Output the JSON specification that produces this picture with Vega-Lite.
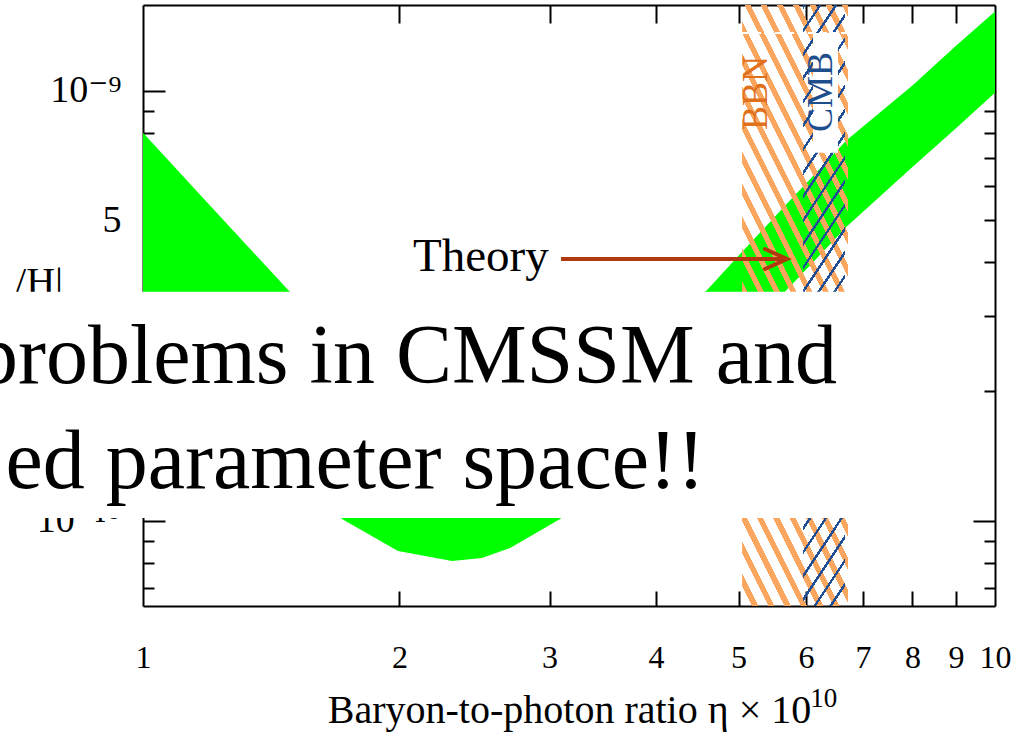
{
 "$schema": "https://vega.github.io/schema/vega-lite/v6.json",
 "width": 852,
 "height": 601,
 "autosize": {"type": "none"},
 "padding": {"left": 143, "top": 5, "right": 24, "bottom": 144},
 "background": "white",
 "datasets": {
  "band": [
   {"eta": 1.0, "lo": 3.0e-10, "hi": 8.0e-10},
   {"eta": 1.2, "lo": 2.2e-10, "hi": 5.4e-10},
   {"eta": 1.5, "lo": 1.4e-10, "hi": 3.35e-10},
   {"eta": 1.712, "lo": 1.01e-10, "hi": 2.6e-10},
   {"eta": 1.992, "lo": 8.51e-11, "hi": 2.0e-10},
   {"eta": 2.305, "lo": 8.07e-11, "hi": 1.75e-10},
   {"eta": 2.5, "lo": 8.2e-11, "hi": 1.72e-10},
   {"eta": 2.697, "lo": 8.65e-11, "hi": 1.8e-10},
   {"eta": 3.087, "lo": 1.01e-10, "hi": 2.05e-10},
   {"eta": 3.5, "lo": 1.25e-10, "hi": 2.45e-10},
   {"eta": 4.0, "lo": 1.6e-10, "hi": 2.85e-10},
   {"eta": 4.59, "lo": 2.2e-10, "hi": 3.44e-10},
   {"eta": 5.0, "lo": 2.65e-10, "hi": 4.14e-10},
   {"eta": 5.54, "lo": 3.25e-10, "hi": 5.15e-10},
   {"eta": 5.69, "lo": 3.44e-10, "hi": 5.45e-10},
   {"eta": 6.0, "lo": 3.84e-10, "hi": 6.09e-10},
   {"eta": 6.7, "lo": 4.84e-10, "hi": 7.69e-10},
   {"eta": 8.0, "lo": 6.66e-10, "hi": 1.03e-9},
   {"eta": 9.0, "lo": 8.19e-10, "hi": 1.274e-9},
   {"eta": 10.0, "lo": 9.9e-10, "hi": 1.53e-9}
  ],
  "bbn": [{"x1": 5.048, "x2": 6.722, "y1": 6.34e-11, "y2": 1.585e-9}],
  "cmb": [{"x1": 5.953, "x2": 6.667, "y1": 6.34e-11, "y2": 1.585e-9}],
  "patch": [{"x1": 6.115, "x2": 6.542, "y1": 7.18e-10, "y2": 1.365e-9}],
  "dash": [{"x1": 5.048, "x2": 6.722, "y": 1.365e-9}],
  "bandLabels": [
   {"label": "BBN", "eta": 5.235, "val": 9.89e-10},
   {"label": "CMB", "eta": 6.249, "val": 9.95e-10}
  ],
  "theory": [{"label": "Theory", "eta": 2.074, "val": 3.815e-10}],
  "shaft": [{"x1": 3.095, "x2": 5.67, "y": 4.067e-10}],
  "head": [
   {"o": 1, "eta": 5.37, "val": 4.291e-10},
   {"o": 2, "eta": 5.70, "val": 4.067e-10},
   {"o": 3, "eta": 5.37, "val": 3.855e-10}
  ],
  "ylab": [{"label": "/H|", "eta": 0.7078, "val": 3.354e-10}],
  "sup": [{"label": "10", "eta": 6.07, "val": 3.7e-11}],
  "box": [{"x1": 0.3, "x2": 8.0, "y1": 1.016e-10, "y2": 3.41e-10}],
  "notes": [
   {"line": "problems in CMSSM and", "eta": 6.525, "val": 2.094e-10},
   {"line": "ed parameter space!!", "eta": 4.566, "val": 1.193e-10}
  ]
 },
 "resolve": {"axis": {"x": "independent", "y": "independent"}},
 "layer": [
  {
   "data": {"name": "band"},
   "mark": {"type": "area", "color": "#00FF00", "opacity": 1, "interpolate": "linear"},
   "encoding": {
    "x": {"field": "eta", "type": "quantitative",
     "scale": {"type": "log", "domain": [1, 10], "nice": false},
     "axis": {"orient": "bottom", "values": [1, 2, 3, 4, 5, 6, 7, 8, 9, 10], "ticks": false, "domain": true,
      "labelFontSize": 32, "labelPadding": 61, "labelBaseline": "alphabetic",
      "title": "Baryon-to-photon ratio η × 10", "titleFont": "Liberation Serif", "titleFontSize": 40,
      "titleFontWeight": "normal", "titleColor": "black", "titlePadding": 17}},
    "y": {"field": "hi", "type": "quantitative",
     "scale": {"type": "log", "domain": [6.34e-11, 1.585e-9], "nice": false},
     "axis": {"orient": "left", "values": [1e-10, 2e-10, 5e-10, 1e-9], "ticks": false, "domain": true,
      "labelFontSize": 38, "labelPadding": 22, "title": null, "labelFont": "Liberation Serif, DejaVu Serif",
      "labelExpr": "datum.value > 9e-10 ? '10⁻⁹' : datum.value > 4e-10 ? '5' : datum.value > 1.5e-10 ? '2' : '10⁻¹⁰'"}},
    "y2": {"field": "lo"}
   }
  },
  {
   "data": {"name": "bbn"},
   "mark": {"type": "rect", "fill": {"gradient": "linear", "x1": 0, "y1": 1, "x2": 0.4244, "y2": -0.203,
    "stops": [
     {"offset": 0, "color": "rgba(250,166,94,0)"}, {"offset": 0.025, "color": "rgba(250,166,94,0)"}, {"offset": 0.025, "color": "#FAA65E"}, {"offset": 0.04, "color": "#FAA65E"},
     {"offset": 0.04, "color": "rgba(250,166,94,0)"}, {"offset": 0.065, "color": "rgba(250,166,94,0)"}, {"offset": 0.065, "color": "#FAA65E"}, {"offset": 0.08, "color": "#FAA65E"},
     {"offset": 0.08, "color": "rgba(250,166,94,0)"}, {"offset": 0.105, "color": "rgba(250,166,94,0)"}, {"offset": 0.105, "color": "#FAA65E"}, {"offset": 0.12, "color": "#FAA65E"},
     {"offset": 0.12, "color": "rgba(250,166,94,0)"}, {"offset": 0.145, "color": "rgba(250,166,94,0)"}, {"offset": 0.145, "color": "#FAA65E"}, {"offset": 0.16, "color": "#FAA65E"},
     {"offset": 0.16, "color": "rgba(250,166,94,0)"}, {"offset": 0.185, "color": "rgba(250,166,94,0)"}, {"offset": 0.185, "color": "#FAA65E"}, {"offset": 0.2, "color": "#FAA65E"},
     {"offset": 0.2, "color": "rgba(250,166,94,0)"}, {"offset": 0.225, "color": "rgba(250,166,94,0)"}, {"offset": 0.225, "color": "#FAA65E"}, {"offset": 0.24, "color": "#FAA65E"},
     {"offset": 0.24, "color": "rgba(250,166,94,0)"}, {"offset": 0.265, "color": "rgba(250,166,94,0)"}, {"offset": 0.265, "color": "#FAA65E"}, {"offset": 0.28, "color": "#FAA65E"},
     {"offset": 0.28, "color": "rgba(250,166,94,0)"}, {"offset": 0.305, "color": "rgba(250,166,94,0)"}, {"offset": 0.305, "color": "#FAA65E"}, {"offset": 0.32, "color": "#FAA65E"},
     {"offset": 0.32, "color": "rgba(250,166,94,0)"}, {"offset": 0.345, "color": "rgba(250,166,94,0)"}, {"offset": 0.345, "color": "#FAA65E"}, {"offset": 0.36, "color": "#FAA65E"},
     {"offset": 0.36, "color": "rgba(250,166,94,0)"}, {"offset": 0.385, "color": "rgba(250,166,94,0)"}, {"offset": 0.385, "color": "#FAA65E"}, {"offset": 0.4, "color": "#FAA65E"},
     {"offset": 0.4, "color": "rgba(250,166,94,0)"}, {"offset": 0.425, "color": "rgba(250,166,94,0)"}, {"offset": 0.425, "color": "#FAA65E"}, {"offset": 0.44, "color": "#FAA65E"},
     {"offset": 0.44, "color": "rgba(250,166,94,0)"}, {"offset": 0.465, "color": "rgba(250,166,94,0)"}, {"offset": 0.465, "color": "#FAA65E"}, {"offset": 0.48, "color": "#FAA65E"},
     {"offset": 0.48, "color": "rgba(250,166,94,0)"}, {"offset": 0.505, "color": "rgba(250,166,94,0)"}, {"offset": 0.505, "color": "#FAA65E"}, {"offset": 0.52, "color": "#FAA65E"},
     {"offset": 0.52, "color": "rgba(250,166,94,0)"}, {"offset": 0.545, "color": "rgba(250,166,94,0)"}, {"offset": 0.545, "color": "#FAA65E"}, {"offset": 0.56, "color": "#FAA65E"},
     {"offset": 0.56, "color": "rgba(250,166,94,0)"}, {"offset": 0.585, "color": "rgba(250,166,94,0)"}, {"offset": 0.585, "color": "#FAA65E"}, {"offset": 0.6, "color": "#FAA65E"},
     {"offset": 0.6, "color": "rgba(250,166,94,0)"}, {"offset": 0.625, "color": "rgba(250,166,94,0)"}, {"offset": 0.625, "color": "#FAA65E"}, {"offset": 0.64, "color": "#FAA65E"},
     {"offset": 0.64, "color": "rgba(250,166,94,0)"}, {"offset": 0.665, "color": "rgba(250,166,94,0)"}, {"offset": 0.665, "color": "#FAA65E"}, {"offset": 0.68, "color": "#FAA65E"},
     {"offset": 0.68, "color": "rgba(250,166,94,0)"}, {"offset": 0.705, "color": "rgba(250,166,94,0)"}, {"offset": 0.705, "color": "#FAA65E"}, {"offset": 0.72, "color": "#FAA65E"},
     {"offset": 0.72, "color": "rgba(250,166,94,0)"}, {"offset": 0.745, "color": "rgba(250,166,94,0)"}, {"offset": 0.745, "color": "#FAA65E"}, {"offset": 0.76, "color": "#FAA65E"},
     {"offset": 0.76, "color": "rgba(250,166,94,0)"}, {"offset": 0.785, "color": "rgba(250,166,94,0)"}, {"offset": 0.785, "color": "#FAA65E"}, {"offset": 0.8, "color": "#FAA65E"},
     {"offset": 0.8, "color": "rgba(250,166,94,0)"}, {"offset": 0.825, "color": "rgba(250,166,94,0)"}, {"offset": 0.825, "color": "#FAA65E"}, {"offset": 0.84, "color": "#FAA65E"},
     {"offset": 0.84, "color": "rgba(250,166,94,0)"}, {"offset": 0.865, "color": "rgba(250,166,94,0)"}, {"offset": 0.865, "color": "#FAA65E"}, {"offset": 0.88, "color": "#FAA65E"},
     {"offset": 0.88, "color": "rgba(250,166,94,0)"}, {"offset": 0.905, "color": "rgba(250,166,94,0)"}, {"offset": 0.905, "color": "#FAA65E"}, {"offset": 0.92, "color": "#FAA65E"},
     {"offset": 0.92, "color": "rgba(250,166,94,0)"}, {"offset": 0.945, "color": "rgba(250,166,94,0)"}, {"offset": 0.945, "color": "#FAA65E"}, {"offset": 0.96, "color": "#FAA65E"},
     {"offset": 0.96, "color": "rgba(250,166,94,0)"}, {"offset": 0.985, "color": "rgba(250,166,94,0)"}, {"offset": 0.985, "color": "#FAA65E"}, {"offset": 1, "color": "#FAA65E"}
    ]}},
   "encoding": {
    "x": {"field": "x1", "type": "quantitative", "scale": {"type": "log", "domain": [1, 10], "nice": false},
     "axis": {"orient": "bottom", "values": [2, 3, 4, 5, 6, 7, 8, 9], "labels": false, "domain": false, "ticks": true, "tickSize": -15, "title": null}},
    "x2": {"field": "x2"},
    "y": {"field": "y1", "type": "quantitative", "scale": {"type": "log", "domain": [6.34e-11, 1.585e-9], "nice": false},
     "axis": {"orient": "left", "values": [1e-10, 1e-9], "labels": false, "domain": false, "ticks": true, "tickSize": -22, "title": null}},
    "y2": {"field": "y2"}
   }
  },
  {
   "data": {"name": "cmb"},
   "mark": {"type": "rect", "fill": {"gradient": "linear", "x1": 0, "y1": 0, "x2": 0.1145, "y2": 1.0928,
    "stops": [
     {"offset": 0, "color": "#1F4E96"}, {"offset": 0.0065, "color": "#1F4E96"}, {"offset": 0.0065, "color": "rgba(31,78,150,0)"}, {"offset": 0.0357, "color": "rgba(31,78,150,0)"},
     {"offset": 0.0357, "color": "#1F4E96"}, {"offset": 0.0422, "color": "#1F4E96"}, {"offset": 0.0422, "color": "rgba(31,78,150,0)"}, {"offset": 0.0714, "color": "rgba(31,78,150,0)"},
     {"offset": 0.0714, "color": "#1F4E96"}, {"offset": 0.0779, "color": "#1F4E96"}, {"offset": 0.0779, "color": "rgba(31,78,150,0)"}, {"offset": 0.1071, "color": "rgba(31,78,150,0)"},
     {"offset": 0.1071, "color": "#1F4E96"}, {"offset": 0.1136, "color": "#1F4E96"}, {"offset": 0.1136, "color": "rgba(31,78,150,0)"}, {"offset": 0.1428, "color": "rgba(31,78,150,0)"},
     {"offset": 0.1428, "color": "#1F4E96"}, {"offset": 0.1493, "color": "#1F4E96"}, {"offset": 0.1493, "color": "rgba(31,78,150,0)"}, {"offset": 0.1785, "color": "rgba(31,78,150,0)"},
     {"offset": 0.1785, "color": "#1F4E96"}, {"offset": 0.185, "color": "#1F4E96"}, {"offset": 0.185, "color": "rgba(31,78,150,0)"}, {"offset": 0.2142, "color": "rgba(31,78,150,0)"},
     {"offset": 0.2142, "color": "#1F4E96"}, {"offset": 0.2207, "color": "#1F4E96"}, {"offset": 0.2207, "color": "rgba(31,78,150,0)"}, {"offset": 0.2499, "color": "rgba(31,78,150,0)"},
     {"offset": 0.2499, "color": "#1F4E96"}, {"offset": 0.2564, "color": "#1F4E96"}, {"offset": 0.2564, "color": "rgba(31,78,150,0)"}, {"offset": 0.2856, "color": "rgba(31,78,150,0)"},
     {"offset": 0.2856, "color": "#1F4E96"}, {"offset": 0.2921, "color": "#1F4E96"}, {"offset": 0.2921, "color": "rgba(31,78,150,0)"}, {"offset": 0.3213, "color": "rgba(31,78,150,0)"},
     {"offset": 0.3213, "color": "#1F4E96"}, {"offset": 0.3278, "color": "#1F4E96"}, {"offset": 0.3278, "color": "rgba(31,78,150,0)"}, {"offset": 0.357, "color": "rgba(31,78,150,0)"},
     {"offset": 0.357, "color": "#1F4E96"}, {"offset": 0.3635, "color": "#1F4E96"}, {"offset": 0.3635, "color": "rgba(31,78,150,0)"}, {"offset": 0.3927, "color": "rgba(31,78,150,0)"},
     {"offset": 0.3927, "color": "#1F4E96"}, {"offset": 0.3992, "color": "#1F4E96"}, {"offset": 0.3992, "color": "rgba(31,78,150,0)"}, {"offset": 0.4284, "color": "rgba(31,78,150,0)"},
     {"offset": 0.4284, "color": "#1F4E96"}, {"offset": 0.4349, "color": "#1F4E96"}, {"offset": 0.4349, "color": "rgba(31,78,150,0)"}, {"offset": 0.4641, "color": "rgba(31,78,150,0)"},
     {"offset": 0.4641, "color": "#1F4E96"}, {"offset": 0.4706, "color": "#1F4E96"}, {"offset": 0.4706, "color": "rgba(31,78,150,0)"}, {"offset": 0.4998, "color": "rgba(31,78,150,0)"},
     {"offset": 0.4998, "color": "#1F4E96"}, {"offset": 0.5063, "color": "#1F4E96"}, {"offset": 0.5063, "color": "rgba(31,78,150,0)"}, {"offset": 0.5355, "color": "rgba(31,78,150,0)"},
     {"offset": 0.5355, "color": "#1F4E96"}, {"offset": 0.542, "color": "#1F4E96"}, {"offset": 0.542, "color": "rgba(31,78,150,0)"}, {"offset": 0.5712, "color": "rgba(31,78,150,0)"},
     {"offset": 0.5712, "color": "#1F4E96"}, {"offset": 0.5777, "color": "#1F4E96"}, {"offset": 0.5777, "color": "rgba(31,78,150,0)"}, {"offset": 0.6069, "color": "rgba(31,78,150,0)"},
     {"offset": 0.6069, "color": "#1F4E96"}, {"offset": 0.6134, "color": "#1F4E96"}, {"offset": 0.6134, "color": "rgba(31,78,150,0)"}, {"offset": 0.6426, "color": "rgba(31,78,150,0)"},
     {"offset": 0.6426, "color": "#1F4E96"}, {"offset": 0.6491, "color": "#1F4E96"}, {"offset": 0.6491, "color": "rgba(31,78,150,0)"}, {"offset": 0.6783, "color": "rgba(31,78,150,0)"},
     {"offset": 0.6783, "color": "#1F4E96"}, {"offset": 0.6848, "color": "#1F4E96"}, {"offset": 0.6848, "color": "rgba(31,78,150,0)"}, {"offset": 0.714, "color": "rgba(31,78,150,0)"},
     {"offset": 0.714, "color": "#1F4E96"}, {"offset": 0.7205, "color": "#1F4E96"}, {"offset": 0.7205, "color": "rgba(31,78,150,0)"}, {"offset": 0.7497, "color": "rgba(31,78,150,0)"},
     {"offset": 0.7497, "color": "#1F4E96"}, {"offset": 0.7562, "color": "#1F4E96"}, {"offset": 0.7562, "color": "rgba(31,78,150,0)"}, {"offset": 0.7854, "color": "rgba(31,78,150,0)"},
     {"offset": 0.7854, "color": "#1F4E96"}, {"offset": 0.7919, "color": "#1F4E96"}, {"offset": 0.7919, "color": "rgba(31,78,150,0)"}, {"offset": 0.8211, "color": "rgba(31,78,150,0)"},
     {"offset": 0.8211, "color": "#1F4E96"}, {"offset": 0.8276, "color": "#1F4E96"}, {"offset": 0.8276, "color": "rgba(31,78,150,0)"}, {"offset": 0.8568, "color": "rgba(31,78,150,0)"},
     {"offset": 0.8568, "color": "#1F4E96"}, {"offset": 0.8633, "color": "#1F4E96"}, {"offset": 0.8633, "color": "rgba(31,78,150,0)"}, {"offset": 0.8925, "color": "rgba(31,78,150,0)"},
     {"offset": 0.8925, "color": "#1F4E96"}, {"offset": 0.899, "color": "#1F4E96"}, {"offset": 0.899, "color": "rgba(31,78,150,0)"}, {"offset": 0.9282, "color": "rgba(31,78,150,0)"},
     {"offset": 0.9282, "color": "#1F4E96"}, {"offset": 0.9347, "color": "#1F4E96"}, {"offset": 0.9347, "color": "rgba(31,78,150,0)"}, {"offset": 0.9639, "color": "rgba(31,78,150,0)"},
     {"offset": 0.9639, "color": "#1F4E96"}, {"offset": 0.9704, "color": "#1F4E96"}, {"offset": 0.9704, "color": "rgba(31,78,150,0)"}, {"offset": 1, "color": "rgba(31,78,150,0)"}
    ]}},
   "encoding": {
    "x": {"field": "x1", "type": "quantitative", "scale": {"type": "log", "domain": [1, 10], "nice": false},
     "axis": {"orient": "top", "values": [2, 3, 4, 5, 6, 7, 8, 9], "labels": false, "domain": true, "ticks": true, "tickSize": -18, "title": null}},
    "x2": {"field": "x2"},
    "y": {"field": "y1", "type": "quantitative", "scale": {"type": "log", "domain": [6.34e-11, 1.585e-9], "nice": false},
     "axis": {"orient": "left", "values": [7e-11, 8e-11, 9e-11, 2e-10, 3e-10, 4e-10, 5e-10, 6e-10, 7e-10, 8e-10, 9e-10], "labels": false, "domain": false, "ticks": true, "tickSize": -11, "title": null}},
    "y2": {"field": "y2"}
   }
  },
  {
   "data": {"name": "patch"},
   "mark": {"type": "rect", "fill": "white"},
   "encoding": {
    "x": {"field": "x1", "type": "quantitative", "scale": {"type": "log", "domain": [1, 10], "nice": false}, "axis": null},
    "x2": {"field": "x2"},
    "y": {"field": "y1", "type": "quantitative", "scale": {"type": "log", "domain": [6.34e-11, 1.585e-9], "nice": false},
     "axis": {"orient": "right", "values": [1e-10, 1e-9], "labels": false, "domain": true, "ticks": true, "tickSize": -22, "title": null}},
    "y2": {"field": "y2"}
   }
  },
  {
   "data": {"name": "dash"},
   "mark": {"type": "rule", "color": "white", "strokeWidth": 2, "strokeDash": [8, 3]},
   "encoding": {
    "x": {"field": "x1", "type": "quantitative", "scale": {"type": "log", "domain": [1, 10], "nice": false}, "axis": null},
    "x2": {"field": "x2"},
    "y": {"field": "y", "type": "quantitative", "scale": {"type": "log", "domain": [6.34e-11, 1.585e-9], "nice": false},
     "axis": {"orient": "right", "values": [7e-11, 8e-11, 9e-11, 2e-10, 3e-10, 4e-10, 5e-10, 6e-10, 7e-10, 8e-10, 9e-10], "labels": false, "domain": false, "ticks": true, "tickSize": -11, "title": null}}
   }
  },
  {
   "data": {"name": "bandLabels"},
   "mark": {"type": "text", "angle": 270, "align": "center", "baseline": "middle", "font": "Liberation Serif", "fontSize": 36},
   "encoding": {
    "x": {"field": "eta", "type": "quantitative", "scale": {"type": "log", "domain": [1, 10], "nice": false}, "axis": null},
    "y": {"field": "val", "type": "quantitative", "scale": {"type": "log", "domain": [6.34e-11, 1.585e-9], "nice": false}, "axis": null},
    "text": {"field": "label"},
    "color": {"field": "label", "type": "nominal", "scale": {"domain": ["BBN", "CMB"], "range": ["#E0701C", "#1F4E8C"]}, "legend": null}
   }
  },
  {
   "data": {"name": "theory"},
   "mark": {"type": "text", "align": "left", "baseline": "alphabetic", "font": "Liberation Serif", "fontSize": 47, "color": "black"},
   "encoding": {
    "x": {"field": "eta", "type": "quantitative", "scale": {"type": "log", "domain": [1, 10], "nice": false}, "axis": null},
    "y": {"field": "val", "type": "quantitative", "scale": {"type": "log", "domain": [6.34e-11, 1.585e-9], "nice": false}, "axis": null},
    "text": {"field": "label"}
   }
  },
  {
   "data": {"name": "shaft"},
   "mark": {"type": "rule", "color": "#B0390F", "strokeWidth": 4},
   "encoding": {
    "x": {"field": "x1", "type": "quantitative", "scale": {"type": "log", "domain": [1, 10], "nice": false}, "axis": null},
    "x2": {"field": "x2"},
    "y": {"field": "y", "type": "quantitative", "scale": {"type": "log", "domain": [6.34e-11, 1.585e-9], "nice": false}, "axis": null}
   }
  },
  {
   "data": {"name": "head"},
   "mark": {"type": "line", "color": "#B0390F", "strokeWidth": 4, "strokeCap": "round", "strokeJoin": "miter"},
   "encoding": {
    "x": {"field": "eta", "type": "quantitative", "scale": {"type": "log", "domain": [1, 10], "nice": false}, "axis": null},
    "y": {"field": "val", "type": "quantitative", "scale": {"type": "log", "domain": [6.34e-11, 1.585e-9], "nice": false}, "axis": null},
    "order": {"field": "o", "type": "quantitative"}
   }
  },
  {
   "data": {"name": "ylab"},
   "mark": {"type": "text", "align": "left", "baseline": "alphabetic", "font": "Liberation Serif", "fontSize": 40, "color": "black"},
   "encoding": {
    "x": {"field": "eta", "type": "quantitative", "scale": {"type": "log", "domain": [1, 10], "nice": false}, "axis": null},
    "y": {"field": "val", "type": "quantitative", "scale": {"type": "log", "domain": [6.34e-11, 1.585e-9], "nice": false}, "axis": null},
    "text": {"field": "label"}
   }
  },
  {
   "data": {"name": "sup"},
   "mark": {"type": "text", "align": "left", "baseline": "alphabetic", "font": "Liberation Serif", "fontSize": 27, "color": "black"},
   "encoding": {
    "x": {"field": "eta", "type": "quantitative", "scale": {"type": "log", "domain": [1, 10], "nice": false}, "axis": null},
    "y": {"field": "val", "type": "quantitative", "scale": {"type": "log", "domain": [6.34e-11, 1.585e-9], "nice": false}, "axis": null},
    "text": {"field": "label"}
   }
  },
  {
   "data": {"name": "box"},
   "mark": {"type": "rect", "fill": "white"},
   "encoding": {
    "x": {"field": "x1", "type": "quantitative", "scale": {"type": "log", "domain": [1, 10], "nice": false}, "axis": null},
    "x2": {"field": "x2"},
    "y": {"field": "y1", "type": "quantitative", "scale": {"type": "log", "domain": [6.34e-11, 1.585e-9], "nice": false}, "axis": null},
    "y2": {"field": "y2"}
   }
  },
  {
   "data": {"name": "notes"},
   "mark": {"type": "text", "align": "right", "baseline": "alphabetic", "font": "Liberation Serif", "fontSize": 84, "color": "black"},
   "encoding": {
    "x": {"field": "eta", "type": "quantitative", "scale": {"type": "log", "domain": [1, 10], "nice": false}, "axis": null},
    "y": {"field": "val", "type": "quantitative", "scale": {"type": "log", "domain": [6.34e-11, 1.585e-9], "nice": false}, "axis": null},
    "text": {"field": "line"}
   }
  }
 ],
 "config": {
  "view": {"stroke": null},
  "axis": {
   "grid": false, "labelOverlap": false, "labelFlush": false, "labelBound": false,
   "domainColor": "black", "domainWidth": 2, "tickColor": "black", "tickWidth": 2,
   "labelColor": "black", "labelFont": "Liberation Serif"
  }
 }
}
